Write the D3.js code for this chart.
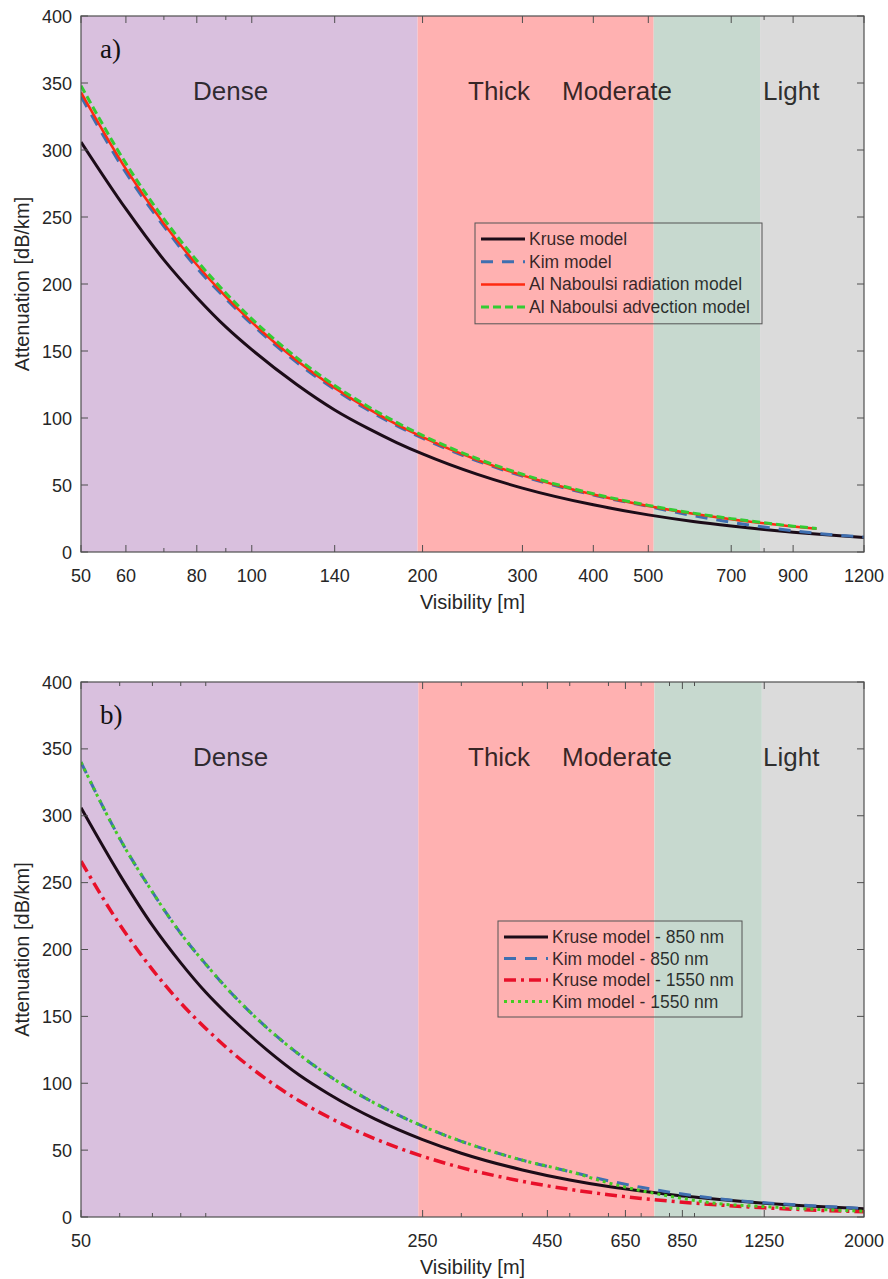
<!DOCTYPE html>
<html>
<head>
<meta charset="utf-8">
<script src="https://cdn.jsdelivr.net/npm/d3@7"></script>
<style>
  body { margin: 0; background: #fff; }
  svg { display: block; font-family: "Liberation Sans", Arial, sans-serif; }
</style>
</head>
<body>
<div class="canvas"></div>
<script>
// ---- data ----
const yTicks = [0, 50, 100, 150, 200, 250, 300, 350, 400];

// panel a)
const visA = [50, 60, 70, 80, 90, 100, 120, 140, 160, 180, 200, 250, 300, 400, 500, 600, 700, 800, 900, 1000, 1200];
const kruseA = [306, 256, 218, 190, 168, 151, 125, 106, 92.4, 81.7, 73.2, 57.9, 47.7, 35.2, 27.7, 22.8, 19.4, 16.8, 14.8, 13.2, 10.8];
const kimA = [340, 283, 243, 212, 189, 170, 141.5, 121.3, 106.1, 94.3, 84.9, 67.9, 56.6, 42.5, 34.0, 27.1, 22.2, 18.6, 15.9, 13.7, 11.2];
const visNab = [50, 60, 70, 80, 90, 100, 120, 140, 160, 180, 200, 250, 300, 400, 500, 600, 700, 800, 900, 990];
const radiationA = [343, 285.8, 245, 214.4, 190.6, 171.5, 142.9, 122.5, 107.2, 95.3, 85.8, 68.6, 57.2, 42.9, 34.3, 28.6, 24.5, 21.4, 19.1, 17.3];
const advectionA = [348, 290, 248.6, 217.5, 193.3, 174, 145, 124.3, 108.8, 96.7, 87, 69.6, 58, 43.5, 34.8, 29, 24.9, 21.8, 19.3, 17.6];
const xTicksA = [50, 60, 80, 100, 140, 200, 300, 400, 500, 700, 900, 1200];
const xMinorA = [70, 90, 800];
const bandsA = [50, 196, 511, 787, 1200];

// panel b)
const visB = [50, 60, 70, 80, 90, 100, 120, 140, 160, 180, 200, 250, 300, 400, 500, 600, 700, 800, 1000, 1250, 1500, 2000];
const kruse850 = [306, 256, 218, 190, 168, 151, 125, 106, 92.4, 81.7, 73.2, 57.9, 47.7, 35.2, 27.7, 22.8, 19.4, 16.8, 13.2, 10.3, 8.5, 6.2];
const kim850 = [340, 283, 243, 212, 189, 170, 141.5, 121.3, 106.1, 94.3, 84.9, 67.9, 56.6, 42.5, 34.0, 27.1, 22.2, 18.6, 13.7, 10.7, 8.8, 6.4];
const kruse1550 = [266, 218.7, 185, 160, 141, 125.6, 102.8, 86.7, 74.9, 65.7, 58.4, 45.4, 36.9, 26.7, 20.6, 16.7, 13.9, 11.9, 9.1, 6.9, 5.5, 3.9];
const kim1550 = [340, 283, 243, 212, 189, 170, 141.5, 121.3, 106.1, 94.3, 84.9, 67.9, 56.6, 42.5, 34.0, 25.5, 19.7, 15.6, 10.1, 7.8, 6.2, 4.3];
const xTicksB = [50, 250, 450, 650, 850, 1250, 2000];
const xMinorB = [60, 70, 80, 90, 300, 400, 500, 600, 700, 800, 900];
const bandsB = [50, 245, 745, 1236, 2000];

const bandColors = ['#d9c0de', '#ffb1b1', '#c7d9cf', '#dbdbdb'];
const regionNames = ['Dense', 'Thick', 'Moderate', 'Light'];
const regionX = [193, 468, 562, 763];

const width = 888, height = 1279;
const svg = d3.select('.canvas').append('svg')
  .attr('width', width).attr('height', height);

function drawPanel(cfg) {
  const left = 81, right = 864;
  const x = d3.scaleLog().domain(cfg.xDomain).range([left, right]);
  const y = d3.scaleLinear().domain([0, 400]).range([cfg.bottom, cfg.top]);
  const g = svg.append('g');

  const clipId = 'clip' + cfg.id;
  g.append('clipPath').attr('id', clipId).append('rect')
    .attr('x', left).attr('y', cfg.top).attr('width', right - left).attr('height', cfg.bottom - cfg.top);

  // background bands
  for (let i = 0; i < 4; i++) {
    g.append('rect')
      .attr('x', x(cfg.bands[i])).attr('y', cfg.top)
      .attr('width', x(cfg.bands[i + 1]) - x(cfg.bands[i]))
      .attr('height', cfg.bottom - cfg.top)
      .attr('fill', bandColors[i]);
  }

  // region labels
  regionNames.forEach((n, i) => {
    g.append('text').attr('x', regionX[i]).attr('y', cfg.top + 84)
      .attr('font-size', 26).attr('fill', '#000').attr('fill-opacity', 0.8)
      .text(n);
  });

  // panel letter
  g.append('text').attr('x', 100).attr('y', cfg.top + 42)
    .attr('font-family', '"Liberation Serif", "Times New Roman", serif')
    .attr('font-size', 27).attr('fill', '#111').text(cfg.id + ')');

  // curves
  const curves = g.append('g').attr('clip-path', `url(#${clipId})`);
  cfg.series.forEach(s => {
    const line = d3.line()
      .x((d, i) => x(s.xs[i]))
      .y(d => y(d))
      .curve(d3.curveMonotoneX);
    curves.append('path')
      .attr('d', line(s.values))
      .attr('fill', 'none')
      .attr('stroke', s.color)
      .attr('stroke-width', s.width)
      .attr('stroke-dasharray', s.dash);
  });

  // axes box
  const axisColor = '#4f4f4f';
  g.append('rect').attr('x', left).attr('y', cfg.top)
    .attr('width', right - left).attr('height', cfg.bottom - cfg.top)
    .attr('fill', 'none').attr('stroke', axisColor).attr('stroke-width', 1.2);

  // y ticks (inward, both sides)
  yTicks.forEach(t => {
    const yy = y(t);
    g.append('line').attr('x1', left).attr('x2', left + 7).attr('y1', yy).attr('y2', yy)
      .attr('stroke', axisColor);
    g.append('line').attr('x1', right - 7).attr('x2', right).attr('y1', yy).attr('y2', yy)
      .attr('stroke', axisColor);
    g.append('text').attr('x', 72).attr('y', yy + 6.5)
      .attr('text-anchor', 'end').attr('font-size', 18).attr('fill', '#262626')
      .text(t);
  });

  // x ticks
  cfg.xTicks.forEach(t => {
    const xx = x(t);
    g.append('line').attr('x1', xx).attr('x2', xx).attr('y1', cfg.bottom).attr('y2', cfg.bottom - 7)
      .attr('stroke', axisColor);
    g.append('line').attr('x1', xx).attr('x2', xx).attr('y1', cfg.top).attr('y2', cfg.top + 7)
      .attr('stroke', axisColor);
    g.append('text').attr('x', xx).attr('y', cfg.bottom + 30)
      .attr('text-anchor', 'middle').attr('font-size', 18).attr('fill', '#262626')
      .text(t);
  });
  cfg.xMinor.forEach(t => {
    const xx = x(t);
    g.append('line').attr('x1', xx).attr('x2', xx).attr('y1', cfg.bottom).attr('y2', cfg.bottom - 4)
      .attr('stroke', axisColor);
    g.append('line').attr('x1', xx).attr('x2', xx).attr('y1', cfg.top).attr('y2', cfg.top + 4)
      .attr('stroke', axisColor);
  });

  // axis labels
  g.append('text').attr('x', (left + right) / 2).attr('y', cfg.bottom + 57)
    .attr('text-anchor', 'middle').attr('font-size', 20).attr('fill', '#262626')
    .text('Visibility [m]');
  g.append('text')
    .attr('transform', `translate(29, ${(cfg.top + cfg.bottom) / 2}) rotate(-90)`)
    .attr('text-anchor', 'middle').attr('font-size', 20).attr('fill', '#262626')
    .text('Attenuation [dB/km]');

  // legend
  const L = cfg.legend;
  g.append('rect').attr('x', L.x).attr('y', L.y).attr('width', L.w)
    .attr('height', L.rowH * cfg.series.length + 10)
    .attr('fill', 'none').attr('stroke', '#555').attr('stroke-width', 1);
  cfg.series.forEach((s, i) => {
    const ly = L.y + 16 + i * L.rowH;
    g.append('line').attr('x1', L.x + 6).attr('x2', L.x + 50).attr('y1', ly).attr('y2', ly)
      .attr('stroke', s.color).attr('stroke-width', s.width).attr('stroke-dasharray', s.dash);
    g.append('text').attr('x', L.x + 54).attr('y', ly + 6)
      .attr('font-size', 17.5).attr('fill', '#000').attr('fill-opacity', 0.8)
      .text(s.name);
  });
}

drawPanel({
  id: 'a', top: 16, bottom: 552, xDomain: [50, 1200],
  xTicks: xTicksA, xMinor: xMinorA, bands: bandsA,
  legend: { x: 475, y: 223, w: 287, rowH: 22.7 },
  series: [
    { name: 'Kruse model', xs: visA, values: kruseA, color: '#1c0c18', width: 3, dash: null },
    { name: 'Kim model', xs: visA, values: kimA, color: '#3f6fb0', width: 3, dash: '12,9' },
    { name: 'Al Naboulsi radiation model', xs: visNab, values: radiationA, color: '#ff2a10', width: 2.5, dash: null },
    { name: 'Al Naboulsi advection model', xs: visNab, values: advectionA, color: '#33cc33', width: 3, dash: '8,4' }
  ]
});

drawPanel({
  id: 'b', top: 682, bottom: 1217, xDomain: [50, 2000],
  xTicks: xTicksB, xMinor: xMinorB, bands: bandsB,
  legend: { x: 498, y: 921, w: 244, rowH: 21.5 },
  series: [
    { name: 'Kruse model - 850 nm', xs: visB, values: kruse850, color: '#1c0c18', width: 3, dash: null },
    { name: 'Kim model - 850 nm', xs: visB, values: kim850, color: '#3f6fb0', width: 3, dash: '12,9' },
    { name: 'Kruse model - 1550 nm', xs: visB, values: kruse1550, color: '#e8102a', width: 3.5, dash: '12,5,3,5' },
    { name: 'Kim model - 1550 nm', xs: visB, values: kim1550, color: '#44cc22', width: 3, dash: '3,4' }
  ]
});
</script>
</body>
</html>
